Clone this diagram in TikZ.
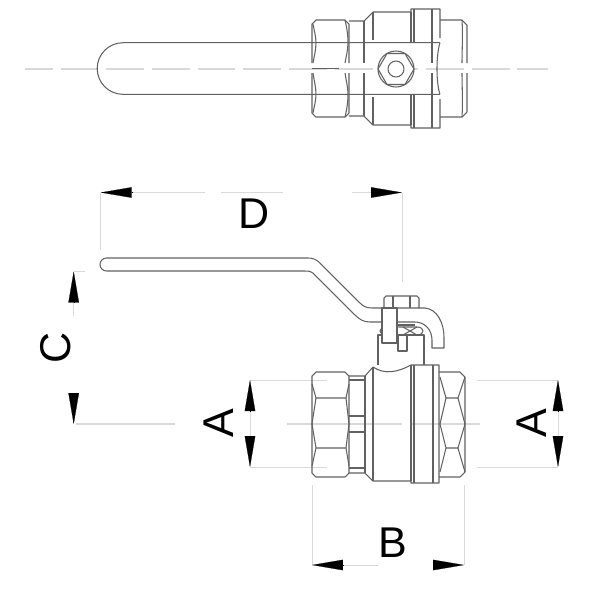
\documentclass[tikz,border=0pt]{standalone}
\usepackage{fontspec}
\setmainfont{Liberation Sans}
\usetikzlibrary{arrows.meta}

\tikzset{
    part/.style={draw=black!62, line width=0.6pt, line join=round},
    axisline/.style={draw=black!15, line width=0.7pt},
    dimline/.style={draw=black!15, line width=0.55pt},
    dimarrow/.style={-{Triangle[length=0.62cm,width=0.21cm,black]}, draw=black, line width=0.1pt},
    dimlabel/.style={font=\fontsize{24.5}{24.5}\selectfont, inner sep=0pt}
}

\begin{document}
\begin{tikzpicture}[x=0.02cm,y=-0.02cm]
        \useasboundingbox (0,0) rectangle (600,600);

        % Vista dall'alto
        \draw[axisline, dash pattern=on 21.5pt off 4.5pt, dash phase=5.7pt] (25,69) -- (548,69);
        \draw[part] (440,42.7) -- (123,42.7) arc (270:90:25.8) -- (440,94.3);
        \draw[part] (312,68.5) -- (339,68.5);

        % Esagono sinistro
        \draw[part] (312,63) -- (312,24) -- (316,20) -- (345,20) -- (349,24) -- (349,63);
        \draw[part] (312,73) -- (312,113) -- (316,117) -- (345,117) -- (349,113) -- (349,73);
        \draw[part] (313,24) .. controls (314,30) and (316,36) .. (316,42.7) .. controls (316,50) and (314,57) .. (313,63);
        \draw[part] (313,73) .. controls (314,80) and (316,87) .. (316,94.3) .. controls (316,101) and (314,107) .. (313,113);
        \draw[part] (345,20) .. controls (347,28) and (348,36) .. (348,42.7) .. controls (348,50) and (346,57) .. (345,63);
        \draw[part] (345,73) .. controls (346,80) and (348,87) .. (348,94.3) .. controls (348,101) and (347,109) .. (345,117);

        % Corpo
        \draw[part] (349,21) -- (364,21) -- (373,12) -- (411,12) -- (411,9) -- (440,9) -- (440,38);
        \draw[part] (349,116) -- (364,116) -- (373,125) -- (411,125) -- (411,128) -- (440,128) -- (440,99);
        \draw[part] (364,21) -- (364,63);
        \draw[part] (364,73) -- (364,116);
        \draw[part] (373,12) -- (373,40);
        \draw[part] (373,97) -- (373,125);
        \draw[part] (411,12) -- (411,42.7);
        \draw[part] (411,94.3) -- (411,125);
        \draw[part] (414,9) -- (414,42.7);
        \draw[part] (414,94.3) -- (414,128);
        \draw[part] (432,9) -- (432,63);
        \draw[part] (432,73) -- (432,128);

        % Esagono destro
        \draw[part] (440,20) -- (462,20) -- (467,25) -- (467,63);
        \draw[part] (440,117) -- (462,117) -- (467,112) -- (467,73);
        \draw[part] (440,42.7) .. controls (436,55) and (436,83) .. (440,94.3);
        \draw[part] (462,20) .. controls (463,35) and (462,50) .. (462,63);
        \draw[part] (462,117) .. controls (463,102) and (462,87) .. (462,73);

        % Dado
        \coordinate (nutTop) at (396,69);
        \draw[part, fill=white] (nutTop) circle (18);
        \draw[part] (378,69) -- (387,53.5) -- (405,53.5) -- (414,69) -- (405,84.5) -- (387,84.5) -- cycle;
        \draw[part] (nutTop) circle (8);

        % Vista frontale: leva
        \draw[part] (382,308) -- (372,308) .. controls (366,308) and (363,306) .. (360,303) -- (320,263) .. controls (316,259) and (312,258) .. (308,258) -- (106.5,258) arc (270:90:6.5) -- (305,271) .. controls (308,271) and (311,271) .. (313,273) -- (355,315) .. controls (360,320) and (364,322) .. (370,322) -- (382,322);
        \draw[part] (419,308) -- (425,308) .. controls (437,309) and (444,323) .. (444,337) -- (444,348) -- (432,348) -- (432,340) .. controls (432,330) and (425,322) .. (415,322) -- (397,322);

        % Premistoppa
        \draw[part] (380,331) .. controls (380,326) and (395,327) .. (402,327) -- (417,327) .. controls (425,327) and (425,335) .. (417,335) -- (402,335) .. controls (395,335) and (380,336) .. (380,331);
        \draw[part] (403,335) -- (417,327);
        \draw[part] (403,327) -- (417,335);
        \draw[part] (397,325) -- (415,325);
        \draw[part] (378,365) -- (378,335) -- (382,335);
        \draw[part] (397,335) -- (424,335) -- (424,365);

        % Dado e blocco
        \draw[part, fill=white] (386,296) -- (417,296) -- (419,298) -- (419,308) -- (384,308) -- (384,298) -- cycle;
        \draw[part] (393,296) -- (393,308);
        \draw[part] (410,296) -- (410,308);
        \draw[part, fill=white] (382,308) rectangle (397,343);
        \draw[part, fill=white] (398,335) rectangle (407,351);

        % Assi
        \draw[axisline] (76,424) -- (175,424);
        \draw[axisline] (287,424) -- (402,424);
        \draw[axisline] (412,424) -- (480,424);

        % Quote A: linee dentro l'esagono
        \draw[dimline] (250,380) -- (327,380);
        \draw[dimline] (250,467) -- (327,467);

        % Esagono sinistro
        \draw[part] (316,372) -- (345,372) -- (349,376) -- (349,473) -- (345,477) -- (316,477) -- (312,473) -- (312,376) -- cycle;
        \draw[part] (312,384) -- (316,398) -- (346,398) -- (349,384);
        \draw[part] (312,424) -- (316,398);
        \draw[part] (349,424) -- (346,398);
        \draw[part] (312,424) -- (316,448) -- (346,448) -- (349,424);
        \draw[part] (312,466) -- (316,448);
        \draw[part] (349,466) -- (346,448);

        % Corpo
        \draw[part] (349,376) -- (365,376) -- (373,367) .. controls (385,375) and (398,372) .. (411,365) -- (439,365) -- (439,483) -- (411,483) -- (411,481) -- (373,481) -- (365,473) -- (349,473);
        \draw[part] (349,380) -- (365,380);
        \draw[part] (349,416) -- (365,416);
        \draw[part] (349,432) -- (365,432);
        \draw[part] (349,468) -- (365,468);
        \draw[part] (365,376) -- (365,473);
        \draw[part] (373,367) -- (373,481);
        \draw[part] (411,365) -- (411,481);
        \draw[part] (414,365) -- (414,483);
        \draw[part] (433,365) -- (433,483);

        % Esagono destro
        \draw[part] (439,372) -- (460,372) -- (465,377) -- (465,472) -- (460,477) -- (439,477);
        \draw[part] (440,377) -- (446,398) -- (458,398) -- (465,377);
        \draw[part] (440,424) -- (446,398);
        \draw[part] (465,424) -- (458,398);
        \draw[part] (440,424) -- (446,448) -- (458,448) -- (465,424);
        \draw[part] (440,472) -- (446,448);
        \draw[part] (465,472) -- (458,448);

        % Quota D
        \coordinate (dLeft) at (100.7,192.5);
        \coordinate (dRight) at (402,192.5);
        \coordinate (dLeftBase) at (132,192.5);
        \coordinate (dRightBase) at (371,192.5);
        \draw[dimline] (dLeft) -- (100.7,250);
        \draw[dimline] (dRight) -- (402,282);
        \draw[dimline] (dLeftBase) -- (205,192.5);
        \draw[dimline] (221,192.5) -- (283,192.5);
        \draw[dimline] (352,192.5) -- (dRightBase);
        \draw[dimarrow] (dLeftBase) -- (dLeft);
        \draw[dimarrow] (dRightBase) -- (dRight);
        \node[dimlabel] (labelD) at (254,214) {D};

        % Quota C
        \coordinate (cTop) at (73.7,271.5);
        \coordinate (cBottom) at (73.7,424);
        \coordinate (cTopBase) at (73.7,302);
        \coordinate (cBottomBase) at (73.7,393);
        \draw[dimline] (cTop) -- (85,271.5);
        \draw[dimline] (cTopBase) -- (73.7,316);
        \draw[dimarrow] (cTopBase) -- (cTop);
        \draw[dimarrow] (cBottomBase) -- (cBottom);
        \node[dimlabel, rotate=90] (labelC) at (56,348) {C};

        % Quota A sinistra
        \coordinate (aTop) at (250,380);
        \coordinate (aBottom) at (250,467);
        \coordinate (aTopBase) at (250,411);
        \coordinate (aBottomBase) at (250,436);
        \draw[dimline] (aTopBase) -- (aBottomBase);
        \draw[dimarrow] (aTopBase) -- (aTop);
        \draw[dimarrow] (aBottomBase) -- (aBottom);
        \node[dimlabel, rotate=90] (labelA) at (219,423.5) {A};

        % Quota A destra
        \coordinate (eTop) at (558,380);
        \coordinate (eBottom) at (558,467);
        \coordinate (eTopBase) at (558,411);
        \coordinate (eBottomBase) at (558,436);
        \draw[dimline] (477,380) -- (eTop);
        \draw[dimline] (477,467) -- (eBottom);
        \draw[dimline] (eTopBase) -- (eBottomBase);
        \draw[dimarrow] (eTopBase) -- (eTop);
        \draw[dimarrow] (eBottomBase) -- (eBottom);
        \node[dimlabel, rotate=90] (labelE) at (532,423.5) {A};

        % Quota B
        \coordinate (bLeft) at (312,565);
        \coordinate (bRight) at (464,565);
        \coordinate (bLeftBase) at (343,565);
        \coordinate (bRightBase) at (433,565);
        \draw[dimline] (bLeft) -- (312,485);
        \draw[dimline] (bRight) -- (464,485);
        \draw[dimline] (bLeftBase) -- (378,565);
        \draw[dimarrow] (bLeftBase) -- (bLeft);
        \draw[dimarrow] (bRightBase) -- (bRight);
        \node[dimlabel] (labelB) at (393,543) {B};
    \end{tikzpicture}
\end{document}
